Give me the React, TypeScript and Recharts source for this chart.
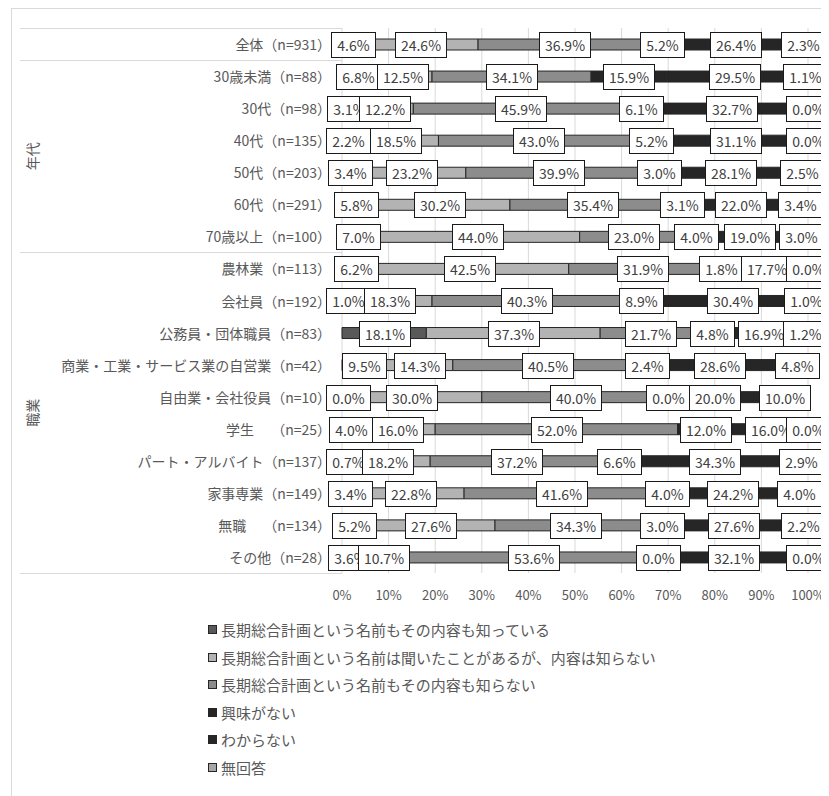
import {
  BarChart,
  Bar,
  XAxis,
  YAxis,
  CartesianGrid,
  Legend,
  LabelList,
} from "recharts";

// rows, top to bottom
const categories = [
  "全体（n=931）",
  "30歳未満（n=88）",
  "30代（n=98）",
  "40代（n=135）",
  "50代（n=203）",
  "60代（n=291）",
  "70歳以上（n=100）",
  "農林業（n=113）",
  "会社員（n=192）",
  "公務員・団体職員（n=83）",
  "商業・工業・サービス業の自営業（n=42）",
  "自由業・会社役員（n=10）",
  "学生　 （n=25）",
  "パート・アルバイト（n=137）",
  "家事専業（n=149）",
  "無職　 （n=134）",
  "その他（n=28）",
];

const groups = [
  { label: "年代", first: 1, last: 6 },
  { label: "職業", first: 7, last: 16 },
];

const seriesNames = [
  "長期総合計画という名前もその内容も知っている",
  "長期総合計画という名前は聞いたことがあるが、内容は知らない",
  "長期総合計画という名前もその内容も知らない",
  "興味がない",
  "わからない",
  "無回答",
];

const knowBoth = [4.6, 6.8, 3.1, 2.2, 3.4, 5.8, 7.0, 6.2, 1.0, 18.1, 9.5, 0.0, 4.0, 0.7, 3.4, 5.2, 3.6];
const heardOnly = [24.6, 12.5, 12.2, 18.5, 23.2, 30.2, 44.0, 42.5, 18.3, 37.3, 14.3, 30.0, 16.0, 18.2, 22.8, 27.6, 10.7];
const knowNeither = [36.9, 34.1, 45.9, 43.0, 39.9, 35.4, 23.0, 31.9, 40.3, 21.7, 40.5, 40.0, 52.0, 37.2, 41.6, 34.3, 53.6];
const notInterested = [5.2, 15.9, 6.1, 5.2, 3.0, 3.1, 4.0, 1.8, 8.9, 4.8, 2.4, 0.0, 12.0, 6.6, 4.0, 3.0, 0.0];
const dontKnow = [26.4, 29.5, 32.7, 31.1, 28.1, 22.0, 19.0, 17.7, 30.4, 16.9, 28.6, 20.0, 16.0, 34.3, 24.2, 27.6, 32.1];
const noAnswer = [2.3, 1.1, 0.0, 0.0, 2.5, 3.4, 3.0, 0.0, 1.0, 1.2, 4.8, 10.0, 0.0, 2.9, 4.0, 2.2, 0.0];

const xTicks = [0, 0.1, 0.2, 0.3, 0.4, 0.5, 0.6, 0.7, 0.8, 0.9, 1];

const seriesValues = [knowBoth, heardOnly, knowNeither, notInterested, dontKnow, noAnswer];

const data = categories.map((name, i) => ({
  name,
  s1: knowBoth[i],
  s2: heardOnly[i],
  s3: knowNeither[i],
  s4: notInterested[i],
  s5: dontKnow[i],
  s6: noAnswer[i],
}));

const series = [
  { key: "s1", fill: "#595959" },
  { key: "s2", fill: "#b3b3b3" },
  { key: "s3", fill: "#8c8c8c" },
  { key: "s4", fill: "#262626" },
  { key: "s5", fill: "#262626" },
  { key: "s6", fill: "#a6a6a6" },
];

const FONT = '"Noto Sans CJK JP", "Noto Sans", sans-serif';
const W = 821;
const H = 788;
const PLOT_LEFT = 334;
const PLOT_TOP = 20;
const PLOT_BOTTOM = 565;
const BAND = (PLOT_BOTTOM - PLOT_TOP) / categories.length;
const GRID = "#d9d9d9";
const MUTED = "#595959";

function textWidth(s: string, size: number) {
  let w = 0;
  for (const ch of s) w += ch === "." ? 0.27 : ch === "%" ? 0.87 : 0.555;
  return w * size;
}

function Box({ cx, cy, value }: { cx: number; cy: number; value: number }) {
  const label = `${value.toFixed(1)}%`;
  const w = Math.round(textWidth(label, 14) + 12);
  const h = 25;
  const left = Math.round(Math.max(cx - w / 2, 318)) + 0.5;
  const top = Math.round(cy - h / 2) + 0.5;
  return (
    <g>
      <rect x={left} y={top} width={w} height={h} fill="#fff" stroke="#1a1a1a" strokeWidth={1} />
      <text
        x={left + w / 2}
        y={top + h / 2}
        textAnchor="middle"
        dominantBaseline="central"
        fontSize={14}
        fill="#404040"
      >
        {label}
      </text>
    </g>
  );
}

// boxed value labels; zero-width segments get their box at the edge of the neighbouring segment
function valueLabel(seriesIdx: number) {
  return (props: any) => {
    const x = Number(props.x);
    const w = Number(props.width);
    const cy = Number(props.y) + Number(props.height) / 2;
    const row = Math.round((cy - PLOT_TOP - BAND / 2) / BAND);
    const own = seriesValues[seriesIdx][row];
    if (!own) return null;
    const boxes = [];
    const firstNonZero = seriesValues.findIndex((v) => v[row] > 0);
    if (seriesIdx === firstNonZero) {
      for (let k = 0; k < seriesIdx; k++) boxes.push(<Box key={`z${k}`} cx={x} cy={cy} value={0} />);
    }
    boxes.push(<Box key="own" cx={x + w / 2} cy={cy} value={own} />);
    for (let k = seriesIdx + 1; k < seriesValues.length && seriesValues[k][row] === 0; k++) {
      boxes.push(<Box key={`z${k}`} cx={x + w} cy={cy} value={0} />);
    }
    return <g>{boxes}</g>;
  };
}

function CategoryTick(props: any) {
  const { y, payload } = props;
  const idx = categories.indexOf(payload.value);
  const half = BAND / 2;
  const lineAt = (yy: number) => (
    <line x1={12} x2={PLOT_LEFT} y1={Math.round(yy) + 0.5} y2={Math.round(yy) + 0.5} stroke={GRID} />
  );
  const group = groups.find((g) => g.first === idx);
  const ends = groups.some((g) => g.last === idx) || idx === 0;
  const gy = group ? y + ((group.last - group.first) * BAND) / 2 : 0;
  return (
    <g>
      <text
        x={323}
        y={y}
        textAnchor="end"
        dominantBaseline="central"
        fontSize={14}
        fill={MUTED}
        style={{ whiteSpace: "pre" }}
      >
        {payload.value}
      </text>
      {idx === 0 && lineAt(y - half)}
      {ends && lineAt(y + half)}
      {group && (
        <text
          x={24}
          y={gy}
          textAnchor="middle"
          dominantBaseline="central"
          fontSize={14}
          fill={MUTED}
          transform={`rotate(-90 24 ${gy})`}
        >
          {group.label}
        </text>
      )}
    </g>
  );
}

function PercentTick(props: any) {
  const { x, payload } = props;
  return (
    <text x={x} y={PLOT_BOTTOM + 21} textAnchor="middle" dominantBaseline="central" fontSize={13} fill={MUTED}>
      {`${Math.round(payload.value * 100)}%`}
    </text>
  );
}

function LegendList({ payload }: any) {
  return (
    <div>
      {(payload ?? []).map((p: any) => (
        <div
          key={p.value}
          style={{ height: 27.5, display: "flex", alignItems: "center", fontSize: 15, color: MUTED, whiteSpace: "nowrap" }}
        >
          <span
            style={{
              display: "inline-block",
              width: 7,
              height: 7,
              border: "1px solid #262626",
              background: p.color,
              marginRight: 4,
            }}
          />
          {p.value}
        </div>
      ))}
    </div>
  );
}

export default function App() {
  return (
    <div style={{ position: "relative", width: W, height: H, overflow: "hidden", fontFamily: FONT }}>
      <div
        style={{
          position: "absolute",
          left: 3,
          top: 0,
          width: 900,
          height: 900,
          border: `1px solid ${GRID}`,
        }}
      />
      <BarChart
        width={W}
        height={H}
        data={data}
        layout="vertical"
        stackOffset="expand"
        margin={{ top: PLOT_TOP, right: W - 800, left: 0, bottom: H - PLOT_BOTTOM - 30 }}
      >
        <CartesianGrid horizontal={false} stroke={GRID} />
        <XAxis
          type="number"
          domain={[0, 1]}
          ticks={xTicks}
          axisLine={false}
          tickLine={false}
          tick={<PercentTick />}
          height={30}
        />
        <YAxis
          type="category"
          dataKey="name"
          width={PLOT_LEFT}
          axisLine={false}
          tickLine={false}
          interval={0}
          tick={<CategoryTick />}
        />
        <Legend
          layout="horizontal"
          verticalAlign="middle"
          align="center"
          itemSorter="dataKey"
          content={<LegendList />}
          wrapperStyle={{ left: 200, top: 608, width: 600, height: 170 }}
        />
        {series.map((s, i) => (
          <Bar
            key={s.key}
            dataKey={s.key}
            name={seriesNames[i]}
            stackId="a"
            fill={s.fill}
            stroke="#262626"
            strokeWidth={1}
            barSize={11}
            isAnimationActive={false}
          >
            <LabelList dataKey={s.key} content={valueLabel(i)} />
          </Bar>
        ))}
      </BarChart>
    </div>
  );
}
